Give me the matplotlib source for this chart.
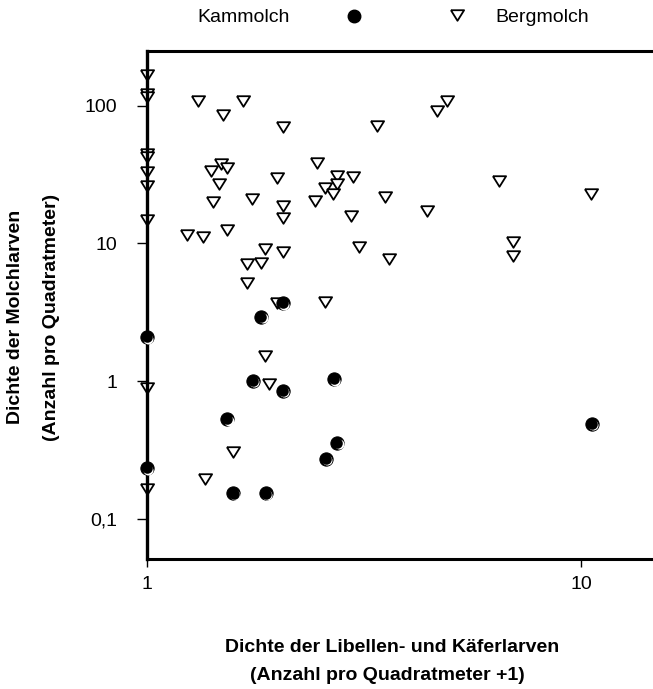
import numpy as np
import matplotlib
matplotlib.use("Agg")
import matplotlib.pyplot as plt
from matplotlib.lines import Line2D
from matplotlib.ticker import NullLocator
from matplotlib.transforms import offset_copy

plt.rcParams['font.family'] = ['Liberation Sans', 'DejaVu Sans']

# Bergmolch (triangles)
berg_x = [1.0, 1.0, 1.0, 1.313, 1.662, 1.497, 2.054, 1.0, 1.0, 1.0,
          1.0, 1.0, 1.483, 1.529, 1.404, 1.465, 1.421, 1.748, 1.991, 2.054,
          2.054, 2.465, 2.736, 2.736, 2.576, 2.679, 2.442, 2.978, 2.951, 1.234,
          1.346, 1.529, 1.867, 2.054, 1.697, 1.831, 3.074, 3.379, 4.905, 4.651,
          6.484, 10.56, 3.535, 4.411, 6.982, 6.982, 3.611, 1.697, 1.990, 2.576,
          1.867, 1.913, 1.0, 1.581, 1.360, 1.0]
berg_y = [167, 121, 115.7, 108.7, 108.7, 85.2, 69.7, 44.6, 42.6, 32.8,
          26.2, 14.8, 37.7, 35.1, 33.7, 26.9, 19.9, 21.0, 29.7, 18.8,
          15.2, 38.6, 30.9, 27.0, 25.4, 22.8, 20.4, 30.5, 15.8, 11.5,
          11.2, 12.5, 9.15, 8.66, 7.08, 7.24, 9.46, 71.2, 108.2, 91.5,
          28.5, 22.8, 21.6, 17.2, 10.3, 8.10, 7.74, 5.13, 3.67, 3.77,
          1.53, 0.953, 0.886, 0.307, 0.194, 0.166]

# Kammolch (filled circles)
kamm_x = [2.058, 1.834, 1.0, 1.755, 2.693, 2.058, 1.531, 2.744, 2.579, 1.0,
          1.582, 1.877, 10.58]
kamm_y = [3.67, 2.91, 2.08, 1.00, 1.03, 0.848, 0.528, 0.357, 0.272, 0.233,
          0.153, 0.153, 0.488]

yticks = [0.1, 1, 10, 100]
ytick_labels = ['0,1', '1', '10', '100']
xticks = [1, 10]
xtick_labels = ['1', '10']

fig = plt.figure(figsize=(6.53, 6.89), dpi=100)
ax = fig.add_axes([147/653, 1 - 559/689, (653 - 147)/653, (559 - 51)/689])
ax.set_xscale('log')
ax.set_yscale('log')
ax.set_xlim(1, 14.65)
ax.set_ylim(0.0511, 249.5)

tri = [(-1, 0.8), (1, 0.8), (0, -0.8), (-1, 0.8)]

# circles with a small white crescent (shaded look)
ax.plot(kamm_x, kamm_y, ls='none', marker='o', ms=9.5, mfc='black',
        mec='black', mew=0.8, clip_on=False, zorder=3)
tr_w = offset_copy(ax.transData, fig=fig, x=0.9, y=-0.9, units='points')
ax.plot(kamm_x, kamm_y, ls='none', marker='o', ms=7.2, mfc='white',
        mec='none', transform=tr_w, clip_on=False, zorder=3.1)
tr_b = offset_copy(ax.transData, fig=fig, x=0.1, y=-0.1, units='points')
ax.plot(kamm_x, kamm_y, ls='none', marker='o', ms=7.6, mfc='black',
        mec='none', transform=tr_b, clip_on=False, zorder=3.2)

ax.plot(berg_x, berg_y, ls='none', marker=tri, ms=9.5, mfc='white',
        mec='black', mew=1.3, clip_on=False, zorder=2)

for side in ['left', 'bottom', 'top']:
    ax.spines[side].set_linewidth(2.2)
ax.spines['left'].set_linewidth(2.4)
ax.spines['right'].set_visible(False)

ax.set_yticks(yticks, labels=ytick_labels)
ax.set_xticks(xticks, labels=xtick_labels)
ax.xaxis.set_minor_locator(NullLocator())
ax.yaxis.set_minor_locator(NullLocator())
ax.tick_params(axis='y', direction='out', length=7.5, width=1.0, pad=14,
               labelsize=14)
ax.tick_params(axis='x', direction='out', length=6, width=1.0, pad=6,
               labelsize=14)

# axis titles
fig.text(16/653, 1 - 317/689, 'Dichte der Molchlarven', rotation=90,
         ha='center', va='center', fontsize=14, fontweight='bold')
fig.text(52/653, 1 - 317/689, '(Anzahl pro Quadratmeter)', rotation=90,
         ha='center', va='center', fontsize=14, fontweight='bold')
fig.text(392/653, 1 - 647/689, 'Dichte der Libellen- und Käferlarven',
         ha='center', va='center', fontsize=14, fontweight='bold')
fig.text(387/653, 1 - 675/689, '(Anzahl pro Quadratmeter +1)',
         ha='center', va='center', fontsize=14, fontweight='bold')

# legend on top
fig.text(197/653, 1 - 17/689, 'Kammolch', ha='left', va='center', fontsize=14)
fig.add_artist(Line2D([354/653], [1 - 16/689], transform=fig.transFigure,
                      ls='none', marker='o', ms=9, mfc='black', mec='black'))
fig.add_artist(Line2D([456.7/653], [1 - 15/689], transform=fig.transFigure,
                      ls='none', marker=tri, ms=9.5, mfc='white', mec='black',
                      mew=1.3))
fig.text(495/653, 1 - 17/689, 'Bergmolch', ha='left', va='center', fontsize=14)

fig.savefig('out.png', dpi=100)
